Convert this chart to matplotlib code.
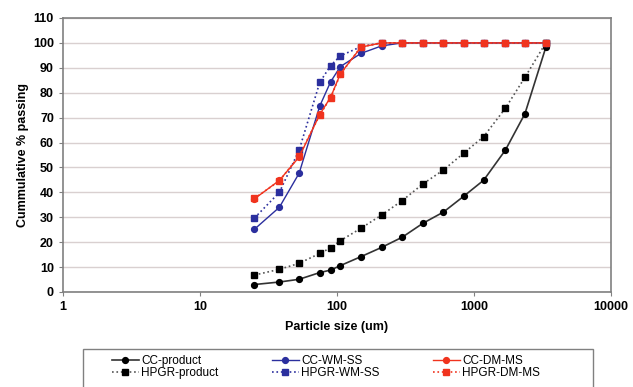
import matplotlib
matplotlib.use("Agg")
import matplotlib.pyplot as plt
from matplotlib.patches import Rectangle
from matplotlib.ticker import FixedLocator, FixedFormatter, NullLocator

plt.rcParams['font.family'] = ['Liberation Sans', 'DejaVu Sans']

# sieve sizes (um)
sizes = [25, 38, 53, 75, 90, 106, 150, 212, 300, 425, 600, 850, 1180, 1700, 2360, 3350]

# cumulative % passing
cc_product = [3.0, 4.0, 5.1, 7.8, 8.8, 10.6, 14.2, 17.9, 22.0, 27.6, 32.1, 38.6, 44.9, 57.0, 71.6, 98.2]
hpgr_product = [6.8, 9.1, 11.5, 15.5, 17.7, 20.6, 25.6, 30.9, 36.7, 43.4, 49.0, 55.9, 62.4, 73.8, 86.2, 100]
cc_wm_ss = [25.2, 34.0, 47.7, 74.7, 84.4, 90.5, 95.8, 98.8, 100, 100, 100, 100, 100, 100, 100, 100]
hpgr_wm_ss = [29.7, 40.0, 57.0, 84.2, 90.9, 94.8, 98.5, 100, 100, 100, 100, 100, 100, 100, 100, 100]
cc_dm_ms = [37.4, 44.8, 54.2, 71.3, 78.2, 87.6, 98.3, 100, 100, 100, 100, 100, 100, 100, 100, 100]
hpgr_dm_ms = [37.6, 44.6, 54.6, 71.1, 78.0, 87.4, 98.5, 100, 100, 100, 100, 100, 100, 100, 100, 100]

fig = plt.figure(figsize=(6.33, 3.87), dpi=100)
ax = fig.add_axes([0.0995, 0.2455, 0.8655, 0.708])

blue = '#2b2f9e'
red = '#f0331e'

ax.plot(sizes, cc_product, '-', color='#333333', lw=1.2, marker='o', ms=4.2,
        mfc='black', mec='black', label='CC-product')
ax.plot(sizes, hpgr_product, ':', color='#555555', lw=1.2, marker='s', ms=4.8,
        mfc='black', mec='black', label='HPGR-product')
ax.plot(sizes, cc_wm_ss, '-', color=blue, lw=1.0, marker='o', ms=4.2,
        mfc=blue, mec=blue, label='CC-WM-SS')
ax.plot(sizes, hpgr_wm_ss, ':', color=blue, lw=1.2, marker='s', ms=4.8,
        mfc=blue, mec=blue, label='HPGR-WM-SS')
ax.plot(sizes, cc_dm_ms, '-', color=red, lw=1.0, marker='o', ms=4.2,
        mfc=red, mec=red, label='CC-DM-MS')
ax.plot(sizes, hpgr_dm_ms, ':', color=red, lw=1.2, marker='s', ms=4.8,
        mfc=red, mec=red, label='HPGR-DM-MS')

ax.set_xscale('log')
ax.set_xlim(1, 10000)
ax.set_ylim(0, 110)
ax.xaxis.set_major_locator(FixedLocator([1, 10, 100, 1000, 10000]))
ax.xaxis.set_major_formatter(FixedFormatter(['1', '10', '100', '1000', '10000']))
ax.xaxis.set_minor_locator(NullLocator())
ax.set_yticks(range(0, 111, 10))

# horizontal grid only
ax.grid(axis='y', color='#d9d0d0', lw=1.0)
ax.set_axisbelow(True)

for s in ax.spines.values():
    s.set_color('#808080')
    s.set_linewidth(1.2)
ax.tick_params(axis='both', colors='#808080', labelcolor='black', labelsize=9, length=3)
for lbl in ax.get_xticklabels() + ax.get_yticklabels():
    lbl.set_fontweight('bold')

ax.set_xlabel('Particle size (um)', fontsize=9, fontweight='bold', labelpad=6)
ax.set_ylabel('Cummulative % passing', fontsize=9, fontweight='bold', labelpad=3)

# legend frame drawn separately so it can be wider than the entries
fig.patches.append(Rectangle((83 / 633, -0.01), 510 / 633, (387 - 349) / 387 + 0.01,
                             transform=fig.transFigure, fill=False,
                             edgecolor='#808080', lw=1.0))
fig.legend(loc='upper left', bbox_to_anchor=(106 / 633, (387 - 349) / 387), ncol=3,
           fontsize=8.5, frameon=False, handlelength=2.3, columnspacing=4.5,
           labelspacing=0.05, borderpad=0, handletextpad=0.2)

fig.savefig('out.png', dpi=100)
